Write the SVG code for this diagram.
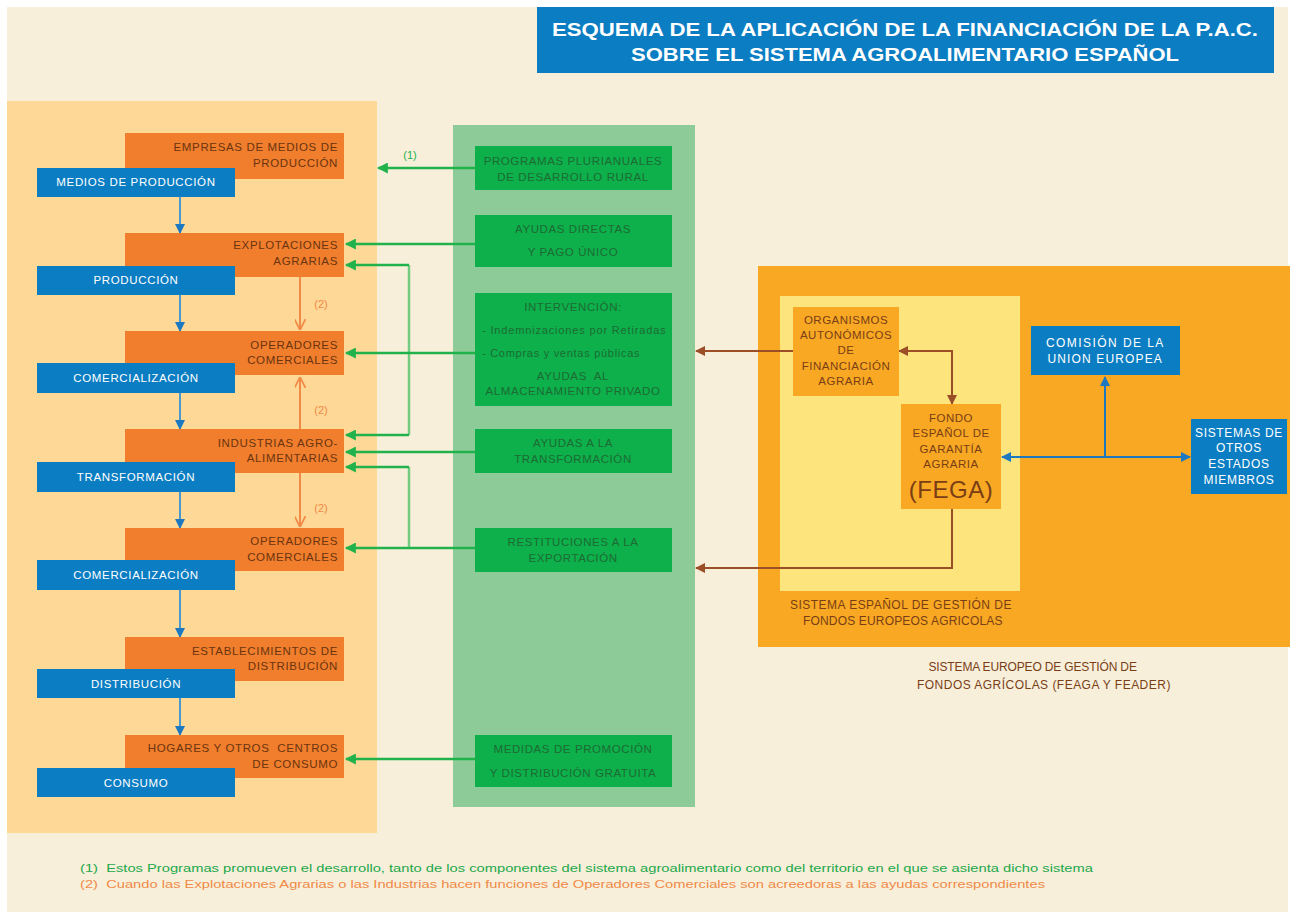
<svg xmlns="http://www.w3.org/2000/svg" width="1290" height="917" viewBox="0 0 1290 917">
<defs>
<style>
text{font-family:"Liberation Sans",Arial,sans-serif;white-space:pre;}
.ob{fill:#F07E2C;}
.bb{fill:#0B7DC2;}
.gb{fill:#0DB04B;}
.ot{font-size:11.5px;fill:#6B3410;text-anchor:end;letter-spacing:0.65px;}
.bt{font-size:11.5px;fill:#FFFFFF;text-anchor:middle;letter-spacing:0.65px;}
.gt{font-size:11.5px;fill:#1D6B33;text-anchor:middle;letter-spacing:0.6px;}
.gtl{font-size:11px;fill:#1D6B33;text-anchor:start;letter-spacing:0.4px;}
.rt{font-size:11.5px;fill:#7A3E16;text-anchor:middle;letter-spacing:0.5px;}
.lt{font-size:12px;fill:#7A3E16;text-anchor:middle;letter-spacing:0.6px;}
.wt{font-size:12px;fill:#FFFFFF;text-anchor:middle;letter-spacing:0.7px;}
.gl{stroke:#22B24C;stroke-width:2.5;fill:none;}
.gll{stroke:#74CC82;stroke-width:2.5;fill:none;}
.bl{stroke:#4A98CC;stroke-width:2;fill:none;}
.ol{stroke:#F08A48;stroke-width:2;fill:none;}
.br{stroke:#9C4E26;stroke-width:2;fill:none;}
.bbl{stroke:#1C78C0;stroke-width:2;fill:none;}
</style>
<marker id="mg" viewBox="0 0 10 10" refX="9" refY="5" markerUnits="userSpaceOnUse" markerWidth="11" markerHeight="11" orient="auto"><path d="M0,0 L10,5 L0,10 z" fill="#22B24C"/></marker>
<marker id="mb" viewBox="0 0 10 10" refX="9" refY="5" markerUnits="userSpaceOnUse" markerWidth="10" markerHeight="10" orient="auto"><path d="M0,0 L10,5 L0,10 z" fill="#1C78C0"/></marker>
<marker id="mo" viewBox="0 0 10 10" refX="9" refY="5" markerUnits="userSpaceOnUse" markerWidth="11" markerHeight="11" orient="auto"><path d="M0,0 L10,5 L0,10" fill="none" stroke="#F08A48" stroke-width="1.6"/></marker>
<marker id="mr" viewBox="0 0 10 10" refX="9" refY="5" markerUnits="userSpaceOnUse" markerWidth="10" markerHeight="10" orient="auto-start-reverse"><path d="M0,0 L10,5 L0,10 z" fill="#9C4E26"/></marker>
<marker id="mbb" viewBox="0 0 10 10" refX="9" refY="5" markerUnits="userSpaceOnUse" markerWidth="10" markerHeight="10" orient="auto-start-reverse"><path d="M0,0 L10,5 L0,10 z" fill="#1C78C0"/></marker>
</defs>

<rect x="0" y="0" width="1290" height="917" fill="#FFFFFF"/>
<rect x="7" y="7" width="1281" height="905" fill="#F7EFDA"/>

<g id="title">
<rect x="537" y="7" width="737" height="66" fill="#0B7DC2"/>
<text x="905" y="36" style="font-size:18px;font-weight:bold;fill:#FFFFFF;text-anchor:middle" textLength="706" lengthAdjust="spacingAndGlyphs">ESQUEMA DE LA APLICACIÓN DE LA FINANCIACIÓN DE LA P.A.C.</text>
<text x="905" y="61" style="font-size:18px;font-weight:bold;fill:#FFFFFF;text-anchor:middle" textLength="548" lengthAdjust="spacingAndGlyphs">SOBRE EL SISTEMA AGROALIMENTARIO ESPAÑOL</text>
</g>

<g id="panels">
<rect x="7" y="101" width="370" height="732" fill="#FDD896"/>
<rect x="453" y="125" width="242" height="682" fill="#8DCB98"/>
<rect x="758" y="266" width="532" height="381" fill="#F8A823"/>
<rect x="780" y="296" width="240" height="295" fill="#FDE47C"/>
<text x="901" y="609" class="lt" textLength="222">SISTEMA ESPAÑOL DE GESTIÓN DE</text>
<text x="903" y="625" class="lt" textLength="200">FONDOS EUROPEOS AGRICOLAS</text>
<text x="1033" y="671" class="lt" textLength="209">SISTEMA EUROPEO DE GESTIÓN DE</text>
<text x="1044" y="689" class="lt" textLength="254">FONDOS AGRÍCOLAS (FEAGA Y FEADER)</text>
</g>

<g id="connectors">
<line x1="180" y1="197" x2="180" y2="233" class="bl" marker-end="url(#mb)"/>
<line x1="180" y1="295" x2="180" y2="331" class="bl" marker-end="url(#mb)"/>
<line x1="180" y1="393" x2="180" y2="429" class="bl" marker-end="url(#mb)"/>
<line x1="180" y1="492" x2="180" y2="528" class="bl" marker-end="url(#mb)"/>
<line x1="180" y1="590" x2="180" y2="637" class="bl" marker-end="url(#mb)"/>
<line x1="180" y1="698" x2="180" y2="735" class="bl" marker-end="url(#mb)"/>
<line x1="300" y1="277" x2="300" y2="329" class="ol" marker-end="url(#mo)"/>
<line x1="300" y1="429" x2="300" y2="378" class="ol" marker-end="url(#mo)"/>
<line x1="300" y1="473" x2="300" y2="526" class="ol" marker-end="url(#mo)"/>
<text x="321" y="308" style="font-size:11px;fill:#F08A48;text-anchor:middle">(2)</text>
<text x="321" y="414" style="font-size:11px;fill:#F08A48;text-anchor:middle">(2)</text>
<text x="321" y="512" style="font-size:11px;fill:#F08A48;text-anchor:middle">(2)</text>
<line x1="475" y1="168" x2="378" y2="168" class="gl" marker-end="url(#mg)"/>
<text x="410" y="159" style="font-size:11px;fill:#22B24C;text-anchor:middle">(1)</text>
<line x1="475" y1="244" x2="346" y2="244" class="gl" marker-end="url(#mg)"/>
<polyline points="409,265 409,435" class="gll"/>
<line x1="409" y1="265" x2="346" y2="265" class="gl" marker-end="url(#mg)"/>
<line x1="409" y1="435" x2="346" y2="435" class="gl" marker-end="url(#mg)"/>
<line x1="475" y1="353" x2="346" y2="353" class="gl" marker-end="url(#mg)"/>
<line x1="475" y1="452" x2="346" y2="452" class="gl" marker-end="url(#mg)"/>
<polyline points="409,467 409,548" class="gll"/>
<line x1="409" y1="467" x2="346" y2="467" class="gl" marker-end="url(#mg)"/>
<line x1="475" y1="548" x2="346" y2="548" class="gl" marker-end="url(#mg)"/>
<line x1="475" y1="759" x2="346" y2="759" class="gl" marker-end="url(#mg)"/>
<line x1="793" y1="351" x2="696" y2="351" class="br" marker-end="url(#mr)"/>
<polyline points="899,351 952,351 952,404" class="br" marker-start="url(#mr)" marker-end="url(#mr)"/>
<polyline points="952,509 952,568 696,568" class="br" marker-end="url(#mr)"/>
<line x1="1002" y1="457" x2="1190" y2="457" class="bbl" marker-start="url(#mbb)" marker-end="url(#mbb)"/>
<line x1="1105" y1="457" x2="1105" y2="377" class="bbl" marker-end="url(#mbb)"/>
</g>

<g id="n-empresas"><rect x="125" y="133" width="219" height="46" class="ob"/><text x="338" y="151" class="ot">EMPRESAS DE MEDIOS DE</text><text x="338" y="167" class="ot">PRODUCCIÓN</text></g>
<g id="n-medios"><rect x="37" y="168" width="198" height="29" class="bb"/><text x="136" y="186" class="bt">MEDIOS DE PRODUCCIÓN</text></g>

<g id="n-explotaciones"><rect x="125" y="233" width="219" height="44" class="ob"/><text x="338" y="249" class="ot">EXPLOTACIONES</text><text x="338" y="265" class="ot">AGRARIAS</text></g>
<g id="n-produccion"><rect x="37" y="266" width="198" height="29" class="bb"/><text x="136" y="284" class="bt">PRODUCCIÓN</text></g>

<g id="n-operadores1"><rect x="125" y="331" width="219" height="44" class="ob"/><text x="338" y="349" class="ot">OPERADORES</text><text x="338" y="364" class="ot">COMERCIALES</text></g>
<g id="n-comercializacion1"><rect x="37" y="363" width="198" height="30" class="bb"/><text x="136" y="382" class="bt">COMERCIALIZACIÓN</text></g>

<g id="n-industrias"><rect x="125" y="429" width="219" height="44" class="ob"/><text x="338" y="447" class="ot">INDUSTRIAS AGRO-</text><text x="338" y="462" class="ot">ALIMENTARIAS</text></g>
<g id="n-transformacion"><rect x="37" y="462" width="198" height="30" class="bb"/><text x="136" y="481" class="bt">TRANSFORMACIÓN</text></g>

<g id="n-operadores2"><rect x="125" y="528" width="219" height="43" class="ob"/><text x="338" y="545" class="ot">OPERADORES</text><text x="338" y="561" class="ot">COMERCIALES</text></g>
<g id="n-comercializacion2"><rect x="37" y="560" width="198" height="30" class="bb"/><text x="136" y="579" class="bt">COMERCIALIZACIÓN</text></g>

<g id="n-establecimientos"><rect x="125" y="637" width="219" height="44" class="ob"/><text x="338" y="655" class="ot">ESTABLECIMIENTOS DE</text><text x="338" y="670" class="ot">DISTRIBUCIÓN</text></g>
<g id="n-distribucion"><rect x="37" y="669" width="198" height="29" class="bb"/><text x="136" y="688" class="bt">DISTRIBUCIÓN</text></g>

<g id="n-hogares"><rect x="125" y="735" width="219" height="43" class="ob"/><text x="338" y="752" class="ot">HOGARES Y OTROS  CENTROS</text><text x="338" y="768" class="ot">DE CONSUMO</text></g>
<g id="n-consumo"><rect x="37" y="768" width="198" height="29" class="bb"/><text x="136" y="787" class="bt">CONSUMO</text></g>

<g id="n-programas"><rect x="475" y="146" width="197" height="44" class="gb"/><text x="573" y="165" class="gt">PROGRAMAS PLURIANUALES</text><text x="573" y="181" class="gt">DE DESARROLLO RURAL</text></g>
<g id="n-ayudas-directas"><rect x="475" y="215" width="197" height="52" class="gb"/><text x="573" y="233" class="gt">AYUDAS DIRECTAS</text><text x="573" y="256" class="gt">Y PAGO ÚNICO</text></g>
<g id="n-intervencion"><rect x="475" y="293" width="197" height="113" class="gb"/><text x="573" y="311" class="gt">INTERVENCIÓN:</text><text x="482" y="334" class="gtl" textLength="184">- Indemnizaciones por Retiradas</text><text x="482" y="357" class="gtl" textLength="158">- Compras y ventas públicas</text><text x="573" y="380" class="gt">AYUDAS  AL</text><text x="573" y="395" class="gt">ALMACENAMIENTO PRIVADO</text></g>
<g id="n-ayudas-transformacion"><rect x="475" y="429" width="197" height="44" class="gb"/><text x="573" y="447" class="gt">AYUDAS A LA</text><text x="573" y="463" class="gt">TRANSFORMACIÓN</text></g>
<g id="n-restituciones"><rect x="475" y="528" width="197" height="44" class="gb"/><text x="573" y="546" class="gt">RESTITUCIONES A LA</text><text x="573" y="562" class="gt">EXPORTACIÓN</text></g>
<g id="n-medidas"><rect x="475" y="735" width="197" height="52" class="gb"/><text x="573" y="753" class="gt">MEDIDAS DE PROMOCIÓN</text><text x="573" y="777" class="gt">Y DISTRIBUCIÓN GRATUITA</text></g>

<g id="n-organismos"><rect x="793" y="307" width="106" height="89" fill="#F8A823"/>
<text x="846" y="324" class="rt">ORGANISMOS</text><text x="846" y="339" class="rt">AUTONÓMICOS</text><text x="846" y="354" class="rt">DE</text><text x="846" y="370" class="rt">FINANCIACIÓN</text><text x="846" y="385" class="rt">AGRARIA</text></g>
<g id="n-fega"><rect x="901" y="404" width="100" height="105" fill="#F8A823"/>
<text x="951" y="422" class="rt">FONDO</text><text x="951" y="437" class="rt">ESPAÑOL DE</text><text x="951" y="453" class="rt">GARANTÍA</text><text x="951" y="468" class="rt">AGRARIA</text><text x="951" y="498" class="rt" style="font-size:24px;letter-spacing:0.5px">(FEGA)</text></g>
<g id="n-comision"><rect x="1031" y="326" width="149" height="49" class="bb"/><text x="1105" y="347" class="wt" textLength="118">COMISIÓN DE LA</text><text x="1105" y="363" class="wt" textLength="115">UNION EUROPEA</text></g>
<g id="n-sistemas"><rect x="1191" y="419" width="96" height="75" class="bb"/><text x="1239" y="437" class="wt" textLength="88">SISTEMAS DE</text><text x="1239" y="452" class="wt">OTROS</text><text x="1239" y="468" class="wt">ESTADOS</text><text x="1239" y="484" class="wt">MIEMBROS</text></g>

<g id="notes">
<text x="80" y="872" style="font-size:11px;fill:#22A84A" textLength="1013" lengthAdjust="spacingAndGlyphs">(1)  Estos Programas promueven el desarrollo, tanto de los componentes del sistema agroalimentario como del territorio en el que se asienta dicho sistema</text>
<text x="80" y="888" style="font-size:11px;fill:#F08A48" textLength="965" lengthAdjust="spacingAndGlyphs">(2)  Cuando las Explotaciones Agrarias o las Industrias hacen funciones de Operadores Comerciales son acreedoras a las ayudas correspondientes</text>
</g>
</svg>
